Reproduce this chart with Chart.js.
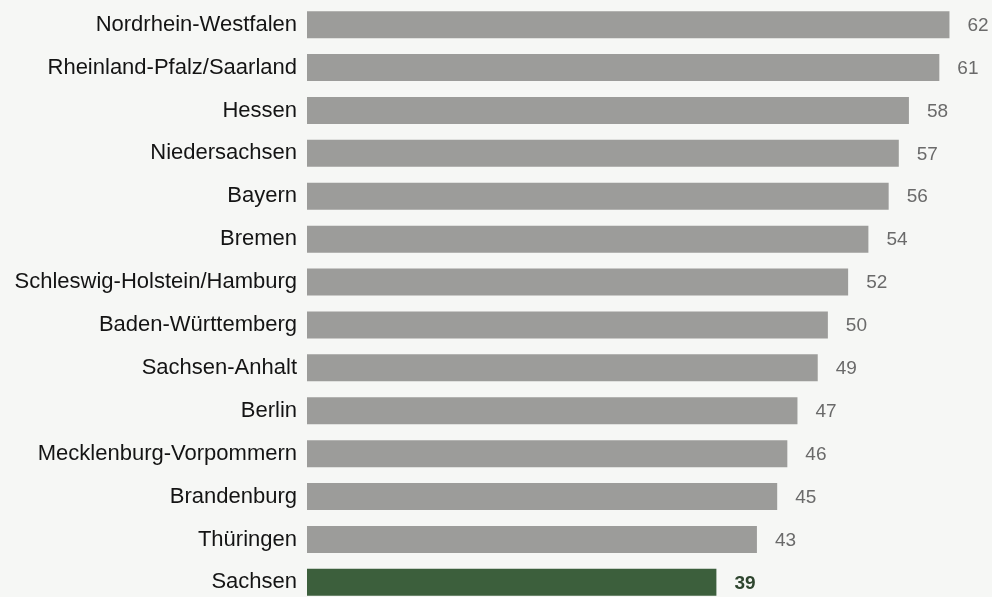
<!DOCTYPE html>
<html>
<head>
<meta charset="utf-8">
<script src="https://cdn.jsdelivr.net/npm/chart.js@4.4.0/dist/chart.umd.min.js"></script>
<style>
  html, body { margin: 0; padding: 0; background: #f6f7f5; overflow: hidden; }
  #wrap { width: 992px; height: 647px; margin-top: -20px; }
</style>
</head>
<body>
<div id="wrap"><canvas id="chart"></canvas></div>
<script>
var laender = [
    'Nordrhein-Westfalen', 'Rheinland-Pfalz/Saarland', 'Hessen', 'Niedersachsen',
    'Bayern', 'Bremen', 'Schleswig-Holstein/Hamburg', 'Baden-Württemberg',
    'Sachsen-Anhalt', 'Berlin', 'Mecklenburg-Vorpommern', 'Brandenburg',
    'Thüringen', 'Sachsen'
];
var werte = [62, 61, 58, 57, 56, 54, 52, 50, 49, 47, 46, 45, 43, 39];
var hervorgehoben = 'Sachsen';

var grau = '#9c9c9a';
var gruen = '#3c5f3c';

// draws the number right of each bar
var wertLabels = {
    id: 'wertLabels',
    afterDatasetsDraw: function (chart) {
        var ctx = chart.ctx;
        var meta = chart.getDatasetMeta(0);
        ctx.save();
        ctx.textBaseline = 'middle';
        ctx.textAlign = 'left';
        meta.data.forEach(function (bar, i) {
            var isSachsen = laender[i] === hervorgehoben;
            ctx.font = (isSachsen ? 'bold ' : '') + '19px "Liberation Sans", Arial, sans-serif';
            ctx.fillStyle = isSachsen ? '#2e452e' : '#6a6a6a';
            ctx.fillText(String(werte[i]), bar.x + 18, bar.y + 1);
        });
        ctx.restore();
    }
};

new Chart(document.getElementById('chart'), {
    type: 'bar',
    data: {
        labels: laender,
        datasets: [{
            data: werte,
            base: -1.4,
            backgroundColor: laender.map(l => l === hervorgehoben ? gruen : grau),
            borderWidth: 0,
            barPercentage: 0.63,
            categoryPercentage: 1.0
        }]
    },
    options: {
        indexAxis: 'y',
        responsive: true,
        maintainAspectRatio: false,
        animation: false,
        layout: { padding: { top: 2, right: 2, left: 0, bottom: 0 } },
        plugins: {
            legend: { display: false },
            tooltip: { enabled: false }
        },
        scales: {
            x: {
                display: false,
                min: -1.4,
                max: 66
            },
            y: {
                grid: { display: false, drawTicks: false },
                border: { display: false },
                afterFit: function (scale) { scale.width = 307; },
                ticks: {
                    color: '#141414',
                    padding: 10,
                    font: { family: '"Liberation Sans", Arial, sans-serif', size: 22 }
                }
            }
        }
    },
    plugins: [wertLabels]
});
</script>
</body>
</html>
